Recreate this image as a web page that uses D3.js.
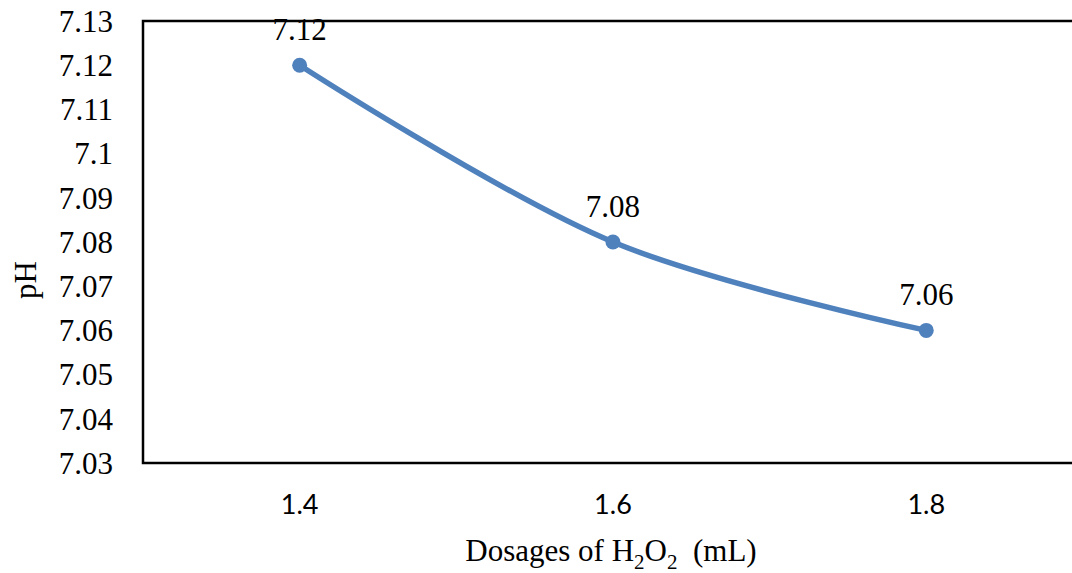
<!DOCTYPE html>
<html>
<head>
<meta charset="utf-8">
<script src="https://cdn.jsdelivr.net/npm/d3@7"></script>
<style>
  html, body { margin: 0; padding: 0; background: #fff; overflow: hidden; }
  svg { display: block; }
  .serif { font-family: "Liberation Serif", "Times New Roman", serif; }
  .sans  { font-family: Lato, "Open Sans", sans-serif; }
</style>
</head>
<body>
<div id="chart"></div>
<script>
/* data */
const dosages = ["1.4", "1.6", "1.8"];
const phValues = [7.12, 7.08, 7.06];
const yTicks = [7.03, 7.04, 7.05, 7.06, 7.07, 7.08, 7.09, 7.1, 7.11, 7.12, 7.13];

const W = 1072, H = 573;
const margin = { top: 21, left: 143, bottom: 110 };
const plotW = 3 * 313.3;            // frame runs past the right edge (cropped)
const plotH = H - margin.top - margin.bottom;

const svg = d3.select("#chart").append("svg")
  .attr("width", W).attr("height", H);

const x = d3.scaleBand().domain(dosages).range([0, plotW]).padding(0);
const y = d3.scaleLinear().domain([7.03, 7.13]).range([plotH, 0]);

const g = svg.append("g").attr("transform", `translate(${margin.left},${margin.top})`);

// frame
g.append("rect")
  .attr("x", 0).attr("y", 0).attr("width", plotW).attr("height", plotH)
  .attr("fill", "none").attr("stroke", "#000").attr("stroke-width", 2.5);

// y axis labels
const yAxis = g.append("g").call(
  d3.axisLeft(y).tickValues(yTicks).tickSize(0).tickPadding(30).tickFormat(d => String(+d.toFixed(2)))
);
yAxis.attr("font-family", null);
yAxis.select(".domain").remove();
yAxis.selectAll("text")
  .attr("class", "serif")
  .style("font-size", "31px").attr("fill", "#000")
  .attr("dy", "0.33em");

// x axis labels
const xAxis = g.append("g").attr("transform", `translate(0,${plotH})`).call(
  d3.axisBottom(x).tickSize(0).tickPadding(35)
);
xAxis.attr("font-family", null);
xAxis.select(".domain").remove();
xAxis.selectAll("text")
  .attr("class", "sans")
  .style("font-size", "27px").attr("fill", "#000")
  .attr("dy", "0.6em");

// line
const cx = d => x(d.k) + x.bandwidth() / 2;
const pts = dosages.map((k, i) => ({ k, v: phValues[i] }));
const line = d3.line().x(cx).y(d => y(d.v)).curve(d3.curveCatmullRom.alpha(0.5));

g.append("path").datum(pts)
  .attr("fill", "none").attr("stroke", "#4f81bd").attr("stroke-width", 5.5)
  .attr("stroke-linejoin", "round").attr("d", line);

g.selectAll(".pt").data(pts).join("circle")
  .attr("class", "pt")
  .attr("cx", cx).attr("cy", d => y(d.v)).attr("r", 7.5)
  .attr("fill", "#4f81bd");

g.selectAll(".dl").data(pts).join("text")
  .attr("class", "serif")
  .attr("x", cx).attr("y", d => y(d.v) - 25)
  .attr("text-anchor", "middle")
  .style("font-size", "31px").attr("fill", "#000")
  .text(d => d.v.toFixed(2));

// axis titles
const xt = svg.append("text")
  .attr("class", "serif")
  .attr("x", 611).attr("y", 561)
  .attr("text-anchor", "middle")
  .style("font-size", "31px").attr("fill", "#000");
xt.append("tspan").text("Dosages of H");
xt.append("tspan").style("font-size", "21px").attr("dy", 8).text("2");
xt.append("tspan").attr("dy", -8).text("O");
xt.append("tspan").style("font-size", "21px").attr("dy", 8).text("2");
xt.append("tspan").attr("dy", -8).text("\u00a0 (mL)");

svg.append("text")
  .attr("class", "serif")
  .attr("transform", "translate(36,280) rotate(-90)")
  .attr("text-anchor", "middle")
  .style("font-size", "31px").attr("fill", "#000")
  .text("pH");
</script>
</body>
</html>
